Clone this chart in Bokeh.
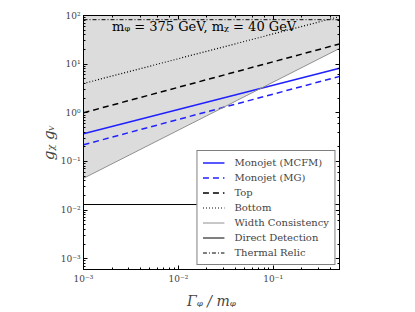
import math
from bokeh.plotting import figure
from bokeh.models import (LogAxis, Legend, LegendItem, Label, CustomJSTickFormatter, LogTicker)
from bokeh.embed import file_html
from bokeh.resources import INLINE

# ---- data ----
gamma = [1e-3, 0.5]
monojet_mcfm = [0.37, 8.2]
monojet_mg = [0.22, 5.6]
top_line = [1.0, 26.0]
bottom_line = [4.0, 95.0]
width_consistency = [0.045, 21.0]
direct_detection = [0.013, 0.013]
thermal_relic = [82.0, 82.0]
shade_top = [1e3, 1e3]

FONT = "DejaVu Serif"

p = figure(x_axis_type="log", y_axis_type="log",
           x_range=(1e-3, 0.5), y_range=(6e-4, 100),
           output_backend="svg", toolbar_location=None,
           min_border_left=30, min_border_right=70, min_border_top=15, min_border_bottom=35)
p.frame_width = 256
p.frame_height = 254
p.margin = (0, 0, 0, 36)
p.grid.visible = False
p.outline_line_color = "black"
p.outline_line_width = 1
p.background_fill_color = "white"

fmt = CustomJSTickFormatter(code="""
const e = Math.round(Math.log10(tick));
const sup = {'-':'\u207b','0':'\u2070','1':'\u00b9','2':'\u00b2','3':'\u00b3','4':'\u2074','5':'\u2075','6':'\u2076','7':'\u2077','8':'\u2078','9':'\u2079'};
return '10' + String(e).split('').map(c => sup[c]).join('');
""")

for ax in [p.xaxis[0], p.yaxis[0]]:
    ax.formatter = fmt
    ax.major_label_text_font = FONT
    ax.major_label_text_font_size = "9px"
    ax.major_tick_in = 4
    ax.major_tick_out = 0
    ax.minor_tick_in = 2
    ax.minor_tick_out = 0
    ax.axis_line_color = "black"
    ax.axis_label_text_font = FONT
    ax.axis_label_text_font_style = "italic"
    ax.axis_label_text_font_size = "14px"
    ax.major_label_standoff = 4

p.xaxis[0].axis_label = "\u0393\u1d69 / m\u1d69"
p.xaxis[0].axis_label_standoff = 6
p.yaxis[0].axis_label = "g\u1d6a g\u1d65"
p.yaxis[0].axis_label_text_font_size = "15px"
p.yaxis[0].axis_label_standoff = 0
p.yaxis[0].major_label_standoff = 3

for loc in ["above", "right"]:
    ax = LogAxis(ticker=LogTicker())
    ax.major_label_text_font_size = "0px"
    ax.major_label_text_color = None
    ax.major_tick_in = 4
    ax.major_tick_out = 0
    ax.minor_tick_in = 2
    ax.minor_tick_out = 0
    ax.axis_line_color = "black"
    ax.major_label_standoff = 0
    p.add_layout(ax, loc)

# shaded excluded region above width consistency
p.varea(x=gamma, y1=width_consistency, y2=shade_top, fill_color="#dcdcdc", fill_alpha=1.0)

r_mcfm = p.line(gamma, monojet_mcfm, line_color="#2020ff", line_width=1.5)
r_mg = p.line(gamma, monojet_mg, line_color="#2020ff", line_width=1.5, line_dash="6 4")
r_top = p.line(gamma, top_line, line_color="black", line_width=1.5, line_dash="6 4")
r_bot = p.line(gamma, bottom_line, line_color="black", line_width=1.2, line_dash="1 2")
r_width = p.line(gamma, width_consistency, line_color="#909090", line_width=1)
r_dd = p.line(gamma, direct_detection, line_color="black", line_width=1)
r_rel = p.line(gamma, thermal_relic, line_color="black", line_width=1, line_dash="4 2 1 2")

# annotation text (data coordinates)
p.add_layout(Label(x=2.0e-3, y=60, text="m\u1d69 = 375 GeV, m\u1d6a = 40 GeV",
                   text_font=FONT,
                   text_font_size="13px", text_baseline="middle", text_align="left",
                   text_color="black"))

legend = Legend(items=[
    LegendItem(label="Monojet (MCFM)", renderers=[r_mcfm]),
    LegendItem(label="Monojet (MG)", renderers=[r_mg]),
    LegendItem(label="Top", renderers=[r_top]),
    LegendItem(label="Bottom", renderers=[r_bot]),
    LegendItem(label="Width Consistency", renderers=[r_width]),
    LegendItem(label="Direct Detection", renderers=[r_dd]),
    LegendItem(label="Thermal Relic", renderers=[r_rel]),
], location="bottom_right")
legend.label_text_font = FONT
legend.label_text_font_size = "10px"
legend.label_height = 13
legend.glyph_height = 13
legend.glyph_width = 22
legend.spacing = 2
legend.padding = 5
legend.margin = 4
legend.border_line_color = "black"
legend.border_line_width = 1
legend.background_fill_alpha = 1.0
legend.label_standoff = 10
p.add_layout(legend, "center")

open("out.html", "w").write(file_html(p, INLINE))
